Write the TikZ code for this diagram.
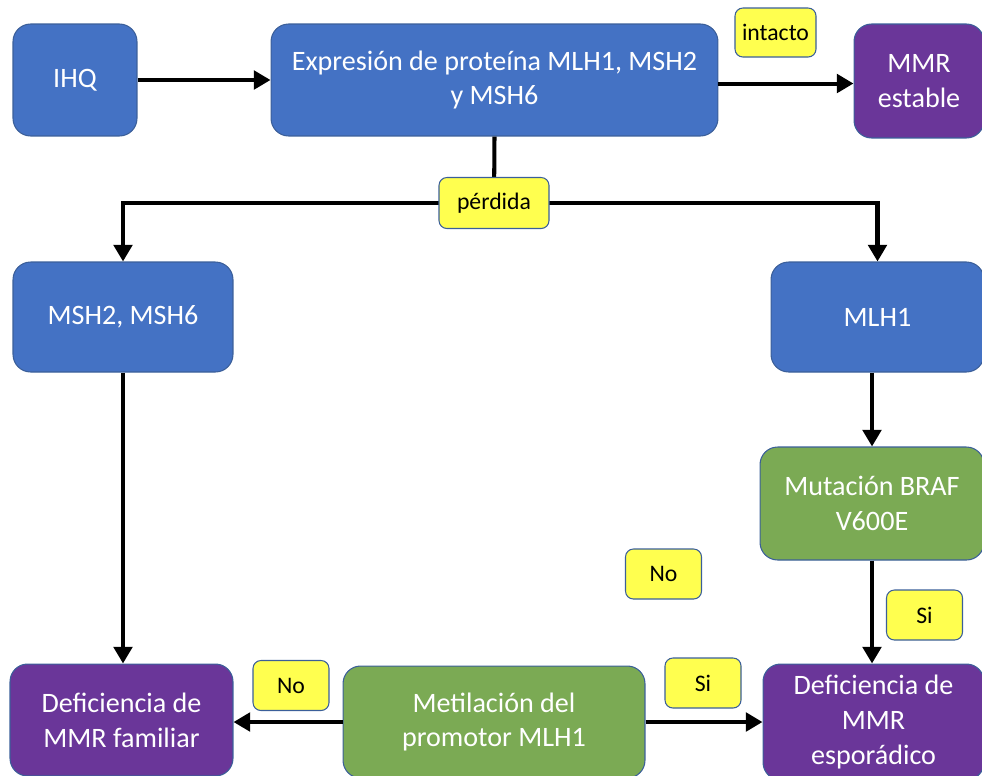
\documentclass[tikz,border=0pt]{standalone}
\usepackage{fontspec}
\setmainfont{Carlito}
\usepackage{tikz}
\usetikzlibrary{arrows.meta,positioning}
\definecolor{cajaazul}{HTML}{4472C4}
\definecolor{cajaverde}{HTML}{7BAA54}
\definecolor{cajamorada}{HTML}{6A3699}
\definecolor{borde}{HTML}{3B5F99}
\definecolor{amarillo}{HTML}{FFFF4F}
\tikzset{
        caja/.style={draw=borde, line width=0.6pt, rounded corners=10pt, text=white,
            align=center, inner sep=2pt, font=\fontsize{16}{19.8}\selectfont},
        azul/.style={caja, fill=cajaazul},
        verde/.style={caja, fill=cajaverde},
        morada/.style={caja, fill=cajamorada},
        etiqueta/.style={draw=borde, line width=0.6pt, fill=amarillo, rounded corners=4.5pt,
            minimum width=1.52cm, minimum height=1.0cm, inner sep=1pt,
            font=\fontsize{13.5}{15}\selectfont},
        linea/.style={line width=2.3pt},
        flecha/.style={linea, -{Triangle[length=9.5pt,width=10.5pt]}},
    }

\begin{document}
\begin{tikzpicture}[x = 0.02cm, y = -0.02cm]
    \useasboundingbox (0,0) rectangle (982,775);
    % cajas
    \node[azul, minimum width=2.48cm, minimum height=2.24cm] (ihq) at (75,80) {IHQ};
    \node[azul, minimum width=8.94cm, minimum height=2.24cm] (expr) at (494.5,80)
        {Expresión de proteína MLH1, MSH2\\y MSH6};
    \node[morada, minimum width=2.6cm, minimum height=2.28cm] (estable) at (919,81) {MMR\\estable};
    \node[azul, minimum width=4.4cm, minimum height=2.2cm] (msh) at (123,317) {MSH2, MSH6};
    \node[azul, minimum width=4.26cm, minimum height=2.2cm] (mlh) at (877.5,317) {MLH1};
    \node[verde, minimum width=4.48cm, minimum height=2.26cm] (braf) at (872,503.5)
        {Mutación BRAF\\V600E};
    \node[morada, minimum width=4.46cm, minimum height=2.24cm] (familiar) at (121.5,720)
        {Deficiencia de\\MMR familiar};
    \node[verde, minimum width=6.04cm, minimum height=2.24cm] (metil) at (494,722)
        {Metilación del\\promotor MLH1};
    \node[morada, minimum width=4.42cm, minimum height=2.32cm] (esporadico) at (873.5,722)
        {Deficiencia de\\MMR\\esporádico};

    % conectores
    \coordinate (rama) at (494,203);
    \draw[flecha] (ihq) -- (expr);
    \draw[flecha] ([yshift=-2pt]expr.east) -- ([yshift=-2pt]expr.east -| estable.west);
    \draw[linea] (expr.south) -- (rama);
    \draw[flecha] (rama) -| (msh.north);
    \draw[flecha] (rama) -| (mlh.north);
    \draw[flecha] (msh.south) -- (msh.south |- familiar.north);
    \draw[flecha] (braf.north |- mlh.south) -- (braf.north);
    \draw[flecha] (braf.south) -- (braf.south |- esporadico.north);
    \draw[flecha] (metil.west) -- (metil.west -| familiar.east);
    \draw[flecha] (metil.east) -- (metil.east -| esporadico.west);

    % etiquetas
    \node[etiqueta, minimum width=2.2cm, minimum height=1.02cm] (perdida) at (rama) {pérdida};
    \node[etiqueta, minimum width=1.62cm, minimum height=0.98cm] (intacto) at (775.5,32.5) {intacto};
    \foreach \n/\x/\y/\t in {noa/663.5/574/No, sia/924.5/615/Si,
        nob/291/685.5/No, sib/703/683/Si}
        \node[etiqueta] (\n) at (\x,\y) {\t};
\end{tikzpicture}
\end{document}
